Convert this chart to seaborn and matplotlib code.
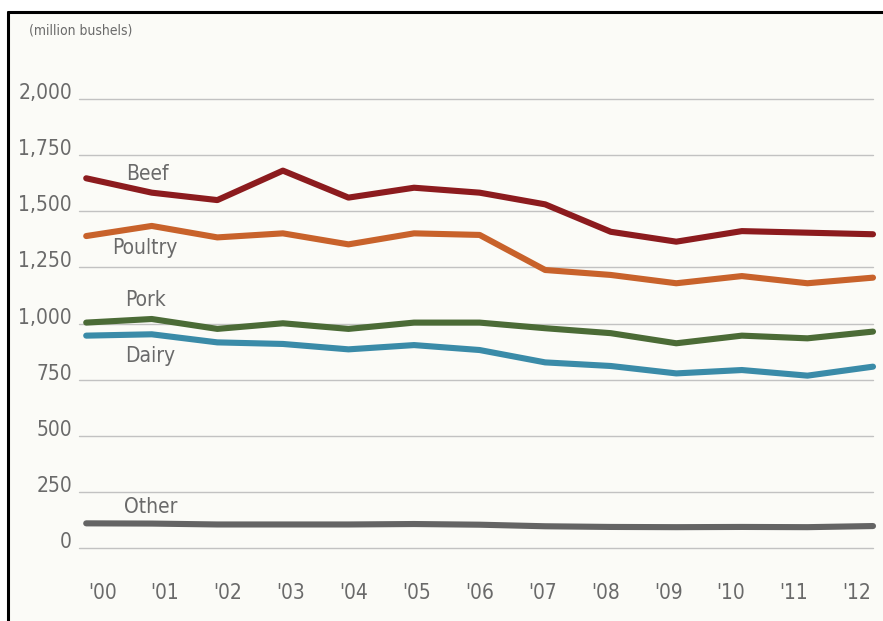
import pandas as pd
import seaborn as sns
import matplotlib.pyplot as plt
from matplotlib.patches import Rectangle
from matplotlib.lines import Line2D

# data (million bushels)
years = ["'00", "'01", "'02", "'03", "'04", "'05", "'06",
         "'07", "'08", "'09", "'10", "'11", "'12"]
beef = [1646, 1582, 1549, 1680, 1560, 1604, 1582, 1530, 1408, 1364, 1411, 1404, 1397]
poultry = [1389, 1434, 1383, 1401, 1352, 1401, 1394, 1238, 1216, 1179, 1211, 1179, 1204]
pork = [1004, 1020, 976, 1001, 976, 1004, 1004, 979, 957, 912, 946, 934, 964]
dairy = [946, 952, 916, 909, 885, 904, 882, 827, 811, 778, 793, 768, 808]
other = [111, 110, 106, 106, 106, 108, 105, 98, 95, 94, 95, 94, 99]
y_ticks = [0, 250, 500, 750, 1000, 1250, 1500, 1750, 2000]

series = {"Beef": beef, "Poultry": poultry, "Pork": pork, "Dairy": dairy, "Other": other}
colors = {"Beef": "#8c1b1e", "Poultry": "#c8622b", "Pork": "#4b6b36",
          "Dairy": "#3a8ba8", "Other": "#646464"}

rows = []
for name, vals in series.items():
    for i, v in enumerate(vals):
        rows.append({"idx": i, "value": v, "feed": name})
df = pd.DataFrame(rows)

sns.set_theme(style="white")
plt.rcParams['font.family'] = ['DejaVu Sans']
plt.rcParams['font.stretch'] = 'condensed'

W, H = 883, 621
fig = plt.figure(figsize=(W / 100, H / 100), dpi=100, facecolor="white")

# panel background and frame (top + left)
fig.patches.append(Rectangle((8 / W, 0), 1 - 8 / W, 1 - 12 / H, transform=fig.transFigure,
                             facecolor="#fbfbf7", edgecolor="none", zorder=-10))
fig.lines.append(Line2D([8 / W, 8 / W], [0, 1 - 12 / H], transform=fig.transFigure,
                        color="black", lw=2.2, zorder=-5))
fig.lines.append(Line2D([8 / W, 1], [1 - 12 / H, 1 - 12 / H], transform=fig.transFigure,
                        color="black", lw=2.2, zorder=-5))

ax = fig.add_axes([79 / W, 1 - 548.3 / H, (873 - 79) / W, (548.3 - 98.7) / H])
ax.set_facecolor("none")
ax.set_zorder(1)

for t in y_ticks:
    ax.axhline(t, color="#c2c2c2", lw=1.0, zorder=1)

sns.lineplot(data=df, x="idx", y="value", hue="feed", palette=colors,
             linewidth=4.4, legend=False, ax=ax, zorder=3)
for ln in ax.lines:
    ln.set_solid_capstyle("round")
    ln.set_solid_joinstyle("round")
    ln.set_clip_on(False)

ax.set_xlim(-0.11, 12.0)
ax.set_ylim(0, 2000)
# year labels sit on a slightly tighter spacing than the data points
tick_pos = [(16 + 62.9 * i) / 65.58 for i in range(len(years))]
ax.set_xticks(tick_pos)
ax.set_xticklabels(years)
ax.set_yticks(y_ticks)
ax.set_yticklabels([f"{t:,}" for t in y_ticks])
ax.tick_params(axis="x", length=0, pad=25, labelsize=15, labelcolor="#6a6a6a")
ax.tick_params(axis="y", length=0, pad=5, labelsize=15, labelcolor="#6a6a6a")
for lab in ax.get_yticklabels():
    lab.set_verticalalignment("baseline")
ax.set_xlabel("")
ax.set_ylabel("")
for s in ax.spines.values():
    s.set_visible(False)

# series labels
label_pos = {"Beef": (0.93, 1665), "Poultry": (0.9, 1336), "Pork": (0.91, 1105),
             "Dairy": (0.97, 856), "Other": (0.99, 184)}
for name, (x, y) in label_pos.items():
    ax.text(x, y, name, ha="center", va="center", fontsize=15, color="#6a6a6a")

fig.text(29 / W, 1 - 30 / H, "(million bushels)", ha="left", va="center",
         fontsize=10, color="#6a6a6a")

fig.savefig("out.png", dpi=100, facecolor="white")
